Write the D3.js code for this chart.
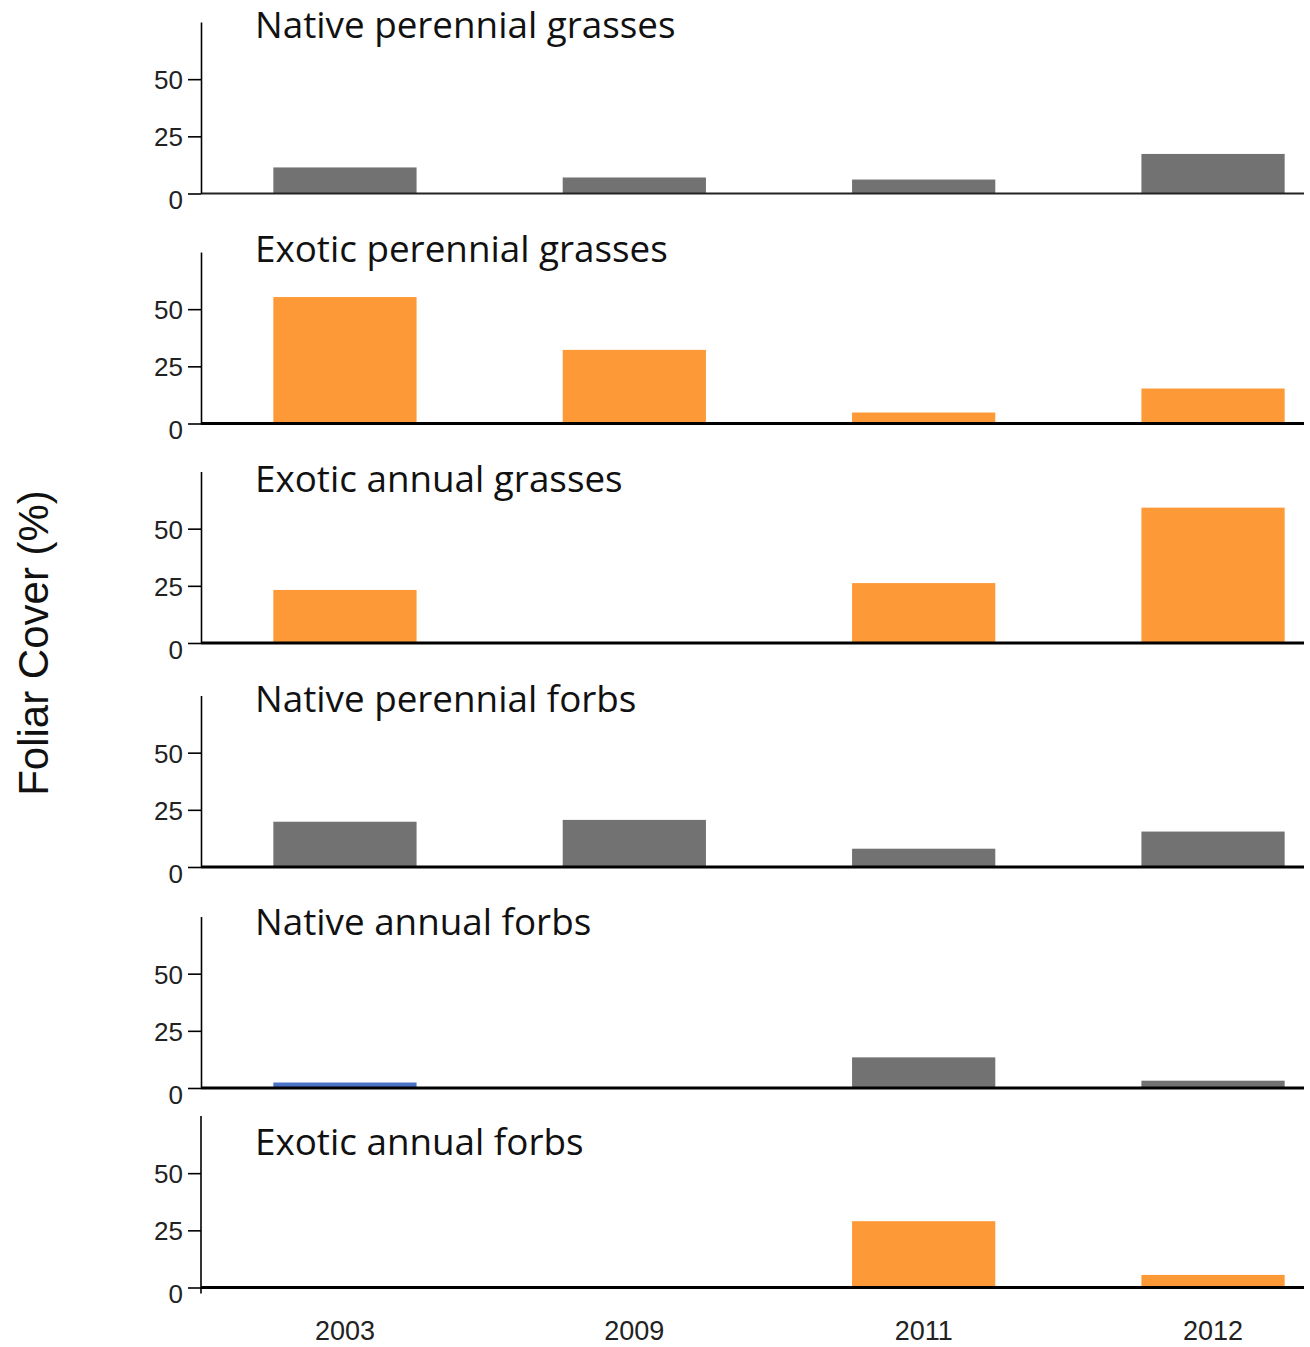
<!DOCTYPE html>
<html>
<head>
<meta charset="utf-8">
<script src="https://cdn.jsdelivr.net/npm/d3@7"></script>
<style>
  html, body { margin: 0; padding: 0; background: #fff; }
  svg { display: block; }
</style>
</head>
<body>
<svg id="chart" width="1310" height="1347"></svg>
<script>
// Survey years shown along the bottom axis
const years = ["2003", "2009", "2011", "2012"];

// Functional groups, one panel each, top to bottom
const groups = [
  "Native perennial grasses",
  "Exotic perennial grasses",
  "Exotic annual grasses",
  "Native perennial forbs",
  "Native annual forbs",
  "Exotic annual forbs"
];

// Foliar cover (%) per year; null = no cover recorded
const nativePerennialGrasses = [11.4, 7.0, 6.1, 17.3];
const exoticPerennialGrasses = [55.3, 32.2, 4.8, 15.3];
const exoticAnnualGrasses    = [23.2, null, 26.2, 59.2];
const nativePerennialForbs   = [19.8, 20.6, 8.0, 15.5];
const nativeAnnualForbs      = [2.4, null, 13.4, 3.2];
const exoticAnnualForbs      = [null, null, 29.0, 5.5];

// Fill category per bar
const nativePerennialGrassesFill = ["native", "native", "native", "native"];
const exoticPerennialGrassesFill = ["exotic", "exotic", "exotic", "exotic"];
const exoticAnnualGrassesFill    = ["exotic", "exotic", "exotic", "exotic"];
const nativePerennialForbsFill   = ["native", "native", "native", "native"];
const nativeAnnualForbsFill      = ["other", "native", "native", "native"];
const exoticAnnualForbsFill      = ["exotic", "exotic", "exotic", "exotic"];

// Y ticks and axis label
const yTicks = [0, 25, 50];
const yMax = 75;
const yLabel = "Foliar Cover (%)";

const series = [
  nativePerennialGrasses, exoticPerennialGrasses, exoticAnnualGrasses,
  nativePerennialForbs, nativeAnnualForbs, exoticAnnualForbs
];
const fills = [
  nativePerennialGrassesFill, exoticPerennialGrassesFill, exoticAnnualGrassesFill,
  nativePerennialForbsFill, nativeAnnualForbsFill, exoticAnnualForbsFill
];

const colour = d3.scaleOrdinal()
  .domain(["native", "exotic", "other"])
  .range(["#727272", "#fd9a37", "#4a72c6"]);

// Panel layout: zero line and title baseline for each panel
const panelZero  = [193.5, 423.5, 643, 867, 1088, 1287.5];
const titleY     = [38, 262, 492, 712, 935, 1155];
const panelH     = 171.5;
const axisX      = 201;
const rightEdge  = 1304;

const svg = d3.select("#chart");

const x = d3.scaleBand()
  .domain(years)
  .range([axisX, axisX + 4 * 289])
  .paddingInner(0.505)
  .paddingOuter(0.25);

groups.forEach((name, i) => {
  const zero = panelZero[i];
  const y = d3.scaleLinear().domain([0, yMax]).range([zero, zero - panelH]);
  const g = svg.append("g");

  const rows = years.map((yr, j) => ({ year: yr, value: series[i][j], fill: fills[i][j] }))
    .filter(d => d.value != null);

  // bars
  g.selectAll("rect.bar")
    .data(rows)
    .join("rect")
    .attr("class", "bar")
    .attr("x", d => x(d.year))
    .attr("width", x.bandwidth())
    .attr("y", d => y(d.value))
    .attr("height", d => y(0) - y(d.value))
    .attr("fill", d => colour(d.fill));

  // baseline along zero
  g.append("line")
    .attr("x1", axisX).attr("x2", rightEdge)
    .attr("y1", y(0)).attr("y2", y(0))
    .attr("stroke", i === 0 ? "#222" : "#000")
    .attr("stroke-width", i === 0 ? 2 : 3);

  // y axis
  const ya = g.append("g")
    .attr("transform", `translate(${axisX},0)`)
    .call(d3.axisLeft(y).tickValues(yTicks).tickSize(13).tickPadding(5).tickSizeOuter(0));
  ya.select(".domain").attr("stroke", "#000").attr("stroke-width", 1.6);
  ya.selectAll(".tick line").attr("stroke", "#000").attr("stroke-width", 1.6);
  ya.selectAll(".tick text")
    .attr("font-family", "'Liberation Sans', Arial, sans-serif")
    .attr("font-size", 26)
    .attr("fill", "#222")
    .attr("dy", d => d === 0 ? "0.58em" : "0.36em");

  if (i === groups.length - 1) {
    ya.select(".domain").attr("d", `M0,${y(yMax)}V${y(0) + 6}`);
  }

  // panel title
  g.append("text")
    .attr("x", 255)
    .attr("y", titleY[i])
    .attr("font-family", "'Open Sans', sans-serif")
    .attr("font-size", 36.8)
    .attr("fill", "#111")
    .text(name);

  // year labels under the last panel
  if (i === groups.length - 1) {
    const xa = g.append("g")
      .attr("transform", `translate(0,${zero})`)
      .call(d3.axisBottom(x).tickSize(0).tickPadding(33));
    xa.select(".domain").remove();
    xa.selectAll(".tick text")
      .attr("font-family", "'Liberation Sans', Arial, sans-serif")
      .attr("font-size", 27)
      .attr("fill", "#222");
  }
});

// shared y-axis title
svg.append("text")
  .attr("transform", "translate(48,643) rotate(-90)")
  .attr("text-anchor", "middle")
  .attr("font-family", "'Liberation Sans', Arial, sans-serif")
  .attr("font-size", 42)
  .attr("fill", "#111")
  .text(yLabel);
</script>
</body>
</html>
